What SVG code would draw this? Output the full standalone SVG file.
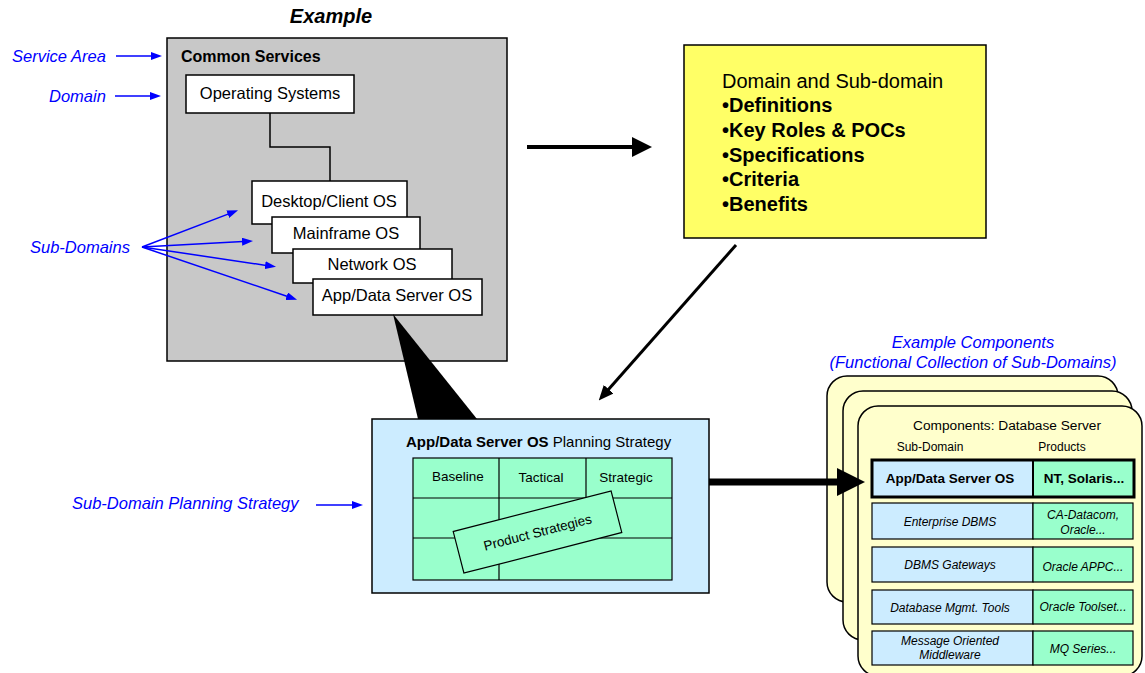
<svg xmlns="http://www.w3.org/2000/svg" width="1145" height="673" viewBox="0 0 1145 673">
<defs>
<style>
text{font-family:"Liberation Sans",Arial,sans-serif;}
.lbl{fill:#0000FF;font-style:italic;font-size:16.5px;}
.box{fill:#FFFFFF;stroke:#000;stroke-width:1.5;}
.t16{font-size:16.5px;fill:#000;text-anchor:middle;}
.blue{stroke:#0000FF;stroke-width:1.5;fill:none;}
.card{fill:#FFFFCC;stroke:#000;stroke-width:1.5;}
.cb{fill:#CCECFF;stroke:#000;stroke-width:1.2;}
.cg{fill:#99FFCC;stroke:#000;stroke-width:1.2;}
.ci{font-size:12px;font-style:italic;text-anchor:middle;fill:#000;}
.g{fill:#99FFCC;stroke:#000;stroke-width:1.2;}
.t13{font-size:13.5px;text-anchor:middle;fill:#000;}
.yb{font-size:20px;font-weight:bold;fill:#000;}
</style>
<marker id="bh" markerUnits="userSpaceOnUse" markerWidth="11" markerHeight="8" refX="1" refY="4" orient="auto"><path d="M0,0 L11,4 L0,8 z" fill="#0000FF"/></marker>
<marker id="kh1" markerUnits="userSpaceOnUse" markerWidth="20" markerHeight="20" refX="1" refY="10" orient="auto"><path d="M0,0 L20,10 L0,20 z" fill="#000"/></marker>
<marker id="kh2" markerUnits="userSpaceOnUse" markerWidth="15" markerHeight="13" refX="1" refY="6.5" orient="auto"><path d="M0,0 L15,6.5 L0,13 z" fill="#000"/></marker>
<marker id="kh3" markerUnits="userSpaceOnUse" markerWidth="28" markerHeight="28" refX="1" refY="14" orient="auto"><path d="M0,0 L28,14 L0,28 z" fill="#000"/></marker>
</defs>
<rect width="1145" height="673" fill="#FFFFFF"/>

<text x="331" y="23" font-size="20" font-weight="bold" font-style="italic" text-anchor="middle">Example</text>

<g id="common-services">
<rect x="167" y="38" width="340" height="323" fill="#C8C8C8" stroke="#000" stroke-width="1.5"/>
<text x="181" y="62" font-size="16" font-weight="bold">Common Services</text>
</g>

<g id="labels">
<text class="lbl" x="12" y="62">Service Area</text>
<text class="lbl" x="49" y="102">Domain</text>
<text class="lbl" x="30" y="253">Sub-Domains</text>
<text class="lbl" x="72" y="509">Sub-Domain Planning Strategy</text>
<text class="lbl" x="973" y="348" text-anchor="middle">Example Components</text>
<text class="lbl" x="973" y="368" text-anchor="middle">(Functional Collection of Sub-Domains)</text>
</g>

<g id="operating-systems">
<rect class="box" x="186" y="75" width="168" height="38"/>
<text class="t16" x="270" y="99">Operating Systems</text>
</g>
<g id="desktop-client-os">
<rect class="box" x="252" y="181" width="155" height="43"/>
<text class="t16" x="329" y="207">Desktop/Client OS</text>
</g>
<g id="mainframe-os">
<rect class="box" x="272" y="217" width="148" height="36"/>
<text class="t16" x="346" y="239">Mainframe OS</text>
</g>
<g id="network-os">
<rect class="box" x="293" y="249" width="159" height="34"/>
<text class="t16" x="372" y="270">Network OS</text>
</g>
<g id="app-data-server-os">
<rect class="box" x="313" y="279" width="169" height="36"/>
<text class="t16" x="397" y="301">App/Data Server OS</text>
</g>

<g id="domain-definitions">
<rect x="684" y="45" width="302" height="193" fill="#FFFF66" stroke="#000" stroke-width="1.5"/>
<text x="722" y="88" font-size="20">Domain and Sub-domain</text>
<text class="yb" x="722" y="112">•Definitions</text>
<text class="yb" x="722" y="137">•Key Roles &amp; POCs</text>
<text class="yb" x="722" y="162">•Specifications</text>
<text class="yb" x="722" y="186">•Criteria</text>
<text class="yb" x="722" y="211">•Benefits</text>
</g>

<g id="planning-strategy">
<rect x="372" y="419" width="337" height="174" fill="#CCECFF" stroke="#000" stroke-width="1.5"/>
<text x="406" y="447" font-size="15"><tspan font-weight="bold">App/Data Server OS</tspan> Planning Strategy</text>
<rect class="g" x="413" y="458" width="259" height="122"/>
<line x1="413" y1="498" x2="672" y2="498" stroke="#000" stroke-width="1.2"/>
<line x1="413" y1="538" x2="672" y2="538" stroke="#000" stroke-width="1.2"/>
<line x1="499" y1="458" x2="499" y2="580" stroke="#000" stroke-width="1.2"/>
<line x1="586" y1="458" x2="586" y2="498" stroke="#000" stroke-width="1.2"/>
<text class="t13" x="458" y="481">Baseline</text>
<text class="t13" x="541" y="482">Tactical</text>
<text class="t13" x="626" y="482">Strategic</text>
<g transform="translate(537.5,532) rotate(-14.4)">
<rect class="g" x="-81.5" y="-21.5" width="163" height="43"/>
<text class="t13" x="0" y="5">Product Strategies</text>
</g>
</g>

<g id="components">
<rect class="card" x="827" y="376" width="291" height="226" rx="20"/>
<rect class="card" x="843" y="391" width="289" height="249" rx="20"/>
<rect class="card" x="858" y="406" width="284" height="270" rx="20"/>
<text x="1007" y="430" font-size="13.7" text-anchor="middle">Components: Database Server</text>
<text x="930" y="451" font-size="12" text-anchor="middle">Sub-Domain</text>
<text x="1062" y="451" font-size="12" text-anchor="middle">Products</text>

<rect x="872" y="460" width="161" height="37" fill="#CCECFF"/>
<rect x="1033" y="460" width="101" height="37" fill="#99FFCC"/>
<rect x="872" y="460" width="262" height="37" fill="none" stroke="#000" stroke-width="3"/>
<line x1="1033" y1="460" x2="1033" y2="497" stroke="#000" stroke-width="2"/>
<text x="950" y="483" font-size="13.5" font-weight="bold" text-anchor="middle">App/Data Server OS</text>
<text x="1084" y="483" font-size="13.5" font-weight="bold" text-anchor="middle">NT, Solaris...</text>

<rect class="cb" x="872" y="503" width="161" height="36"/>
<rect class="cg" x="1033" y="503" width="100" height="36"/>
<text class="ci" x="950" y="526">Enterprise DBMS</text>
<text class="ci" x="1083" y="519">CA-Datacom,</text>
<text class="ci" x="1083" y="534">Oracle...</text>

<rect class="cb" x="872" y="547" width="161" height="35"/>
<rect class="cg" x="1033" y="547" width="100" height="35"/>
<text class="ci" x="950" y="569">DBMS Gateways</text>
<text class="ci" x="1083" y="571">Oracle APPC...</text>

<rect class="cb" x="872" y="590" width="161" height="34"/>
<rect class="cg" x="1033" y="590" width="100" height="34"/>
<text class="ci" x="950" y="612">Database Mgmt. Tools</text>
<text class="ci" x="1083" y="611">Oracle Toolset...</text>

<rect class="cb" x="872" y="631" width="161" height="34"/>
<rect class="cg" x="1033" y="631" width="100" height="34"/>
<text class="ci" x="950" y="645">Message Oriented</text>
<text class="ci" x="950" y="659">Middleware</text>
<text class="ci" x="1083" y="653">MQ Series...</text>
</g>

<g id="connectors">
<polyline points="270,113 270,147 330,147 330,181" fill="none" stroke="#000" stroke-width="1.5"/>
<line class="blue" x1="116" y1="56" x2="152" y2="56" marker-end="url(#bh)"/>
<line class="blue" x1="115" y1="96" x2="151" y2="96" marker-end="url(#bh)"/>
<line class="blue" x1="142" y1="247" x2="228.7" y2="213.9" marker-end="url(#bh)"/>
<line class="blue" x1="142" y1="247" x2="243" y2="241.6" marker-end="url(#bh)"/>
<line class="blue" x1="142" y1="247" x2="266.1" y2="265.4" marker-end="url(#bh)"/>
<line class="blue" x1="142" y1="247" x2="287.6" y2="296.5" marker-end="url(#bh)"/>
<line class="blue" x1="316" y1="505" x2="353" y2="505" marker-end="url(#bh)"/>
<line x1="527" y1="147" x2="633" y2="147" stroke="#000" stroke-width="4" marker-end="url(#kh1)"/>
<line x1="736" y1="245" x2="608" y2="390" stroke="#000" stroke-width="3" marker-end="url(#kh2)"/>
<line x1="709" y1="482" x2="838" y2="482" stroke="#000" stroke-width="7" marker-end="url(#kh3)"/>
<polygon points="393,314 418,419 477,419" fill="#000"/>
</g>
</svg>
